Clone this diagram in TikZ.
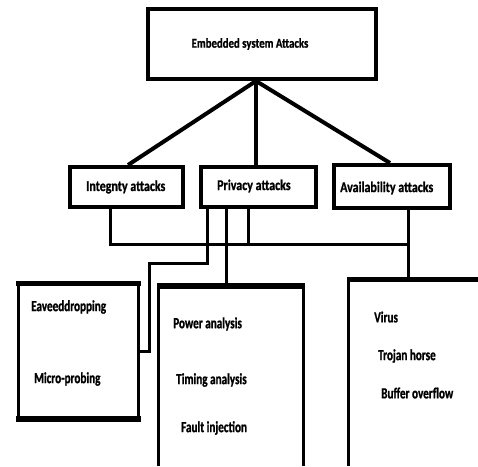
\documentclass[tikz,border=0pt]{standalone}
\usepackage{fontspec}
\setmainfont{Carlito}
\newfontfamily\topfont{Carlito Bold}[FakeStretch=0.8,FakeBold=1]
\newfontfamily\midfont{Carlito Bold}[FakeStretch=0.8,FakeBold=1]
\newfontfamily\lowfont{Carlito Bold}[FakeStretch=0.72,FakeBold=1]
\begin{document}
\begin{tikzpicture}[x=1pt,y=-1pt,
  box/.style={draw=black,line width=4pt,inner sep=0pt,minimum width=#1},
  lbl/.style={anchor=west,inner sep=0pt,font=\midfont\fontsize{15}{17}\selectfont},
  toplbl/.style={inner sep=0pt,font=\topfont\fontsize{13.5}{16}\selectfont},
  lowlbl/.style={anchor=west,inner sep=0pt,font=\lowfont\fontsize{15.5}{18}\selectfont},
  wire/.style={line width=3pt},
  spoke/.style={line width=4pt}]
\useasboundingbox (0,0) rectangle (478,466);
% top box
\node[box=228pt,minimum height=70pt] (top) at (262,44) {};
\node[toplbl] (toptext) at (250,44) {Embedded system Attacks};
\coordinate (apex) at (256,81);
% middle boxes
\node[box=113pt,minimum height=40pt] (integ) at (126.5,187) {};
\node[box=115pt,minimum height=40pt] (priv) at (258.5,187) {};
\node[box=116pt,minimum height=43pt] (avail) at (392,186.5) {};
\node[lbl] (integt) at (86,187) {Integnty attacks};
\node[lbl] (privt) at (217,186) {Privacy attacks};
\node[lbl] (availt) at (340,188) {Availability attacks};
% spokes
\draw[spoke] (apex) -- (integ.north -| 128,0);
\draw[spoke] (apex) -- (priv.north -| 256,0);
\draw[spoke] (apex) -- (avail.north -| 390,0);
% bottom boxes (open sides drawn explicitly)
\coordinate (lbTL) at (18.5,283);
\coordinate (lbBR) at (138.5,419);
\draw[line width=3pt] (lbTL) rectangle (lbBR);
\draw[line width=5pt] (16,283) -- (141,283);
\draw[line width=6pt] (16,419) -- (141,419);
\coordinate (mbTL) at (158.5,286);
\coordinate (mbTR) at (303.5,286);
\draw[line width=3pt] (158.5,466) -- (mbTL) -- (mbTR) -- (303.5,466);
\draw[line width=6pt] (157,286) -- (305,286);
\coordinate (rbTL) at (348.5,279.5);
\draw[line width=3pt] (348.5,466) -- (rbTL) -- (478,279.5);
\draw[line width=5pt] (347,279.5) -- (478,279.5);
% bottom texts
\node[lowlbl] (eav) at (31,307) {Eaveeddropping};
\node[lowlbl] (micro) at (34,379) {Micro-probing};
\node[lowlbl] (power) at (173,324) {Power analysis};
\node[lowlbl] (timing) at (176,380) {Timing analysis};
\node[lowlbl] (fault) at (181,428) {Fault injection};
\node[lowlbl] (virus) at (374,317) {Virus};
\node[lowlbl] (trojan) at (378,356) {Trojan horse};
\node[lowlbl] (buffer) at (381,393) {Buffer overflow};
% connectors
\draw[wire] (integ.south -| 110,0) -- (110,244) -- (408,244);
\draw[wire] (priv.south -| 248,0) -- (248,244);
\draw[wire] (avail.south -| 408,0) -- (rbTL -| 408,0);
\draw[wire] (priv.south -| 207,0) -- (207,263) -- (149,263) -- (149,351) -- (lbBR |- 0,351);
\draw[wire] (priv.south -| 226,0) -- (mbTL -| 226,0);
\end{tikzpicture}
\end{document}
